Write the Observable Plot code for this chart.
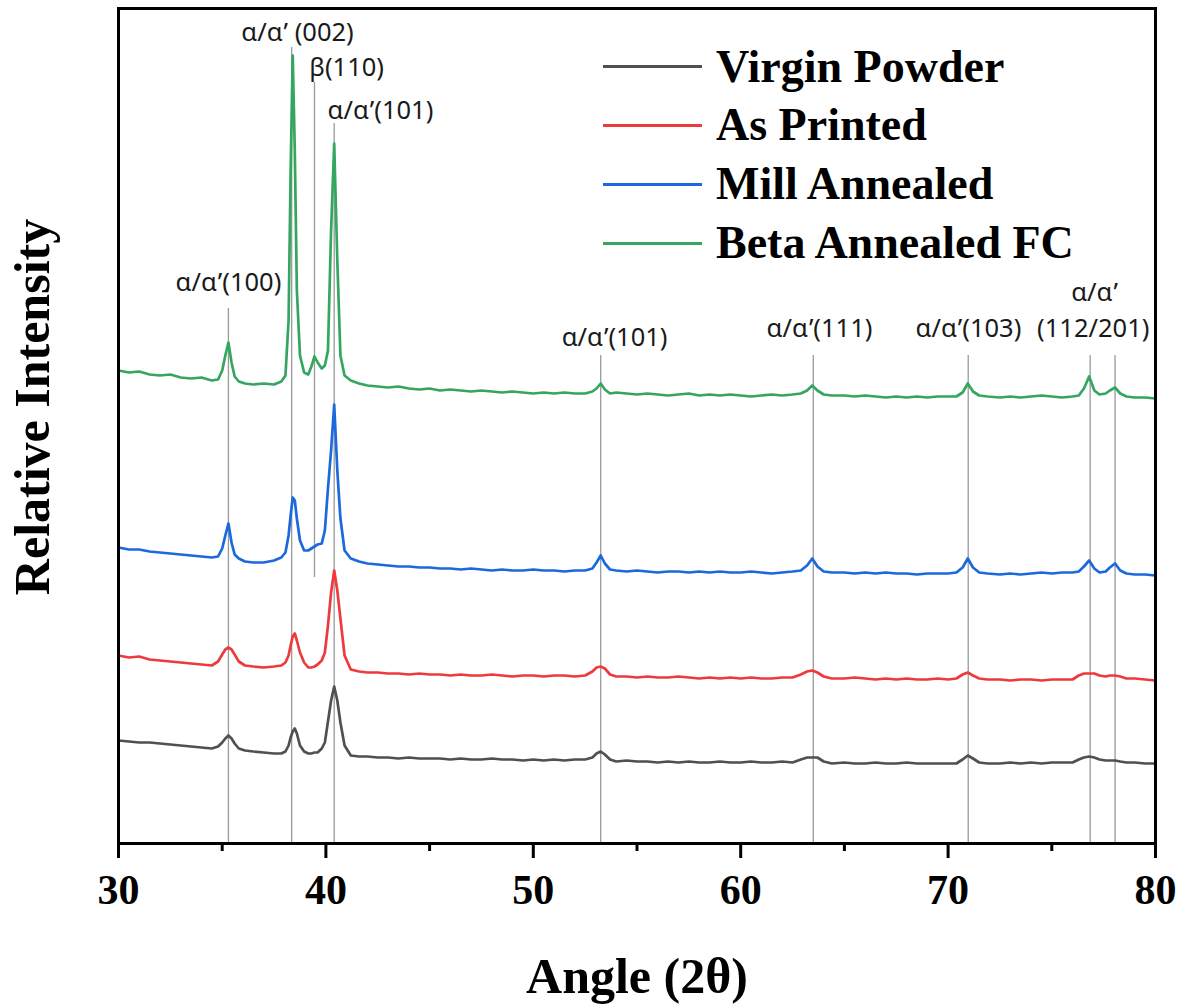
<!DOCTYPE html>
<html><head><meta charset="utf-8">
<script src="https://cdn.jsdelivr.net/npm/d3@7"></script>
<script src="https://cdn.jsdelivr.net/npm/@observablehq/plot@0.6"></script>
<style>
body{margin:0;background:#fff;}
#wrap{position:relative;width:1184px;height:1005px;}
#wrap svg{position:absolute;left:0;top:0;overflow:visible;}
#legend{position:absolute;left:603px;top:37.6px;font-family:"Liberation Serif","Times New Roman",serif;font-weight:bold;font-size:46px;color:#000;}
.row{display:flex;align-items:center;height:58.7px;line-height:58.7px;white-space:nowrap;}
.swatch{width:99px;height:3px;margin-right:14px;}
g[aria-label="x-axis tick label"] text{font-family:"Liberation Serif","Times New Roman",serif;font-weight:bold;}
g[aria-label="peak labels"] text{letter-spacing:0.9px;}
</style></head>
<body><div id="wrap"><div id="legend"></div></div>
<script>
const angles = [
30,30.5,31,31.5,32,32.5,33,33.5,34,34.5,
34.8,35.0,35.15,35.3,35.45,35.6,35.8,36.1,36.5,37,
37.5,37.85,38.05,38.2,38.3,38.4,38.5,38.6,38.75,38.95,
39.15,39.3,39.45,39.6,39.8,39.95,40.1,40.25,40.4,40.55,
40.7,40.9,41.2,41.6,42,42.5,43,43.5,44,44.5,
45,45.5,46,46.5,47,47.5,48,48.5,49,49.5,
50,50.5,51,51.5,52,52.5,52.85,53.05,53.25,53.45,
53.7,54,54.5,55,55.5,56,56.5,57,57.5,58,
58.5,59,59.5,60,60.5,61,61.5,62,62.5,62.9,
63.2,63.45,63.7,64,64.4,65,65.5,66,66.5,67,
67.5,68,68.5,69,69.5,70,70.4,70.7,70.95,71.2,
71.5,71.9,72.5,73,73.5,74,74.5,75,75.5,76,
76.3,76.55,76.8,77.05,77.3,77.6,77.8,78.05,78.3,78.6,
79,79.5,80];

const virginPowder = [
103,102,101,101,100,99,98,97,96,95,
97,101,105,108,105,100,95,93,92,91,
90,90,92,98,106,112,115,110,98,92,
90,90,91,91,95,101,122,143,157,143,
121,98,88,87,87,86,86,85,86,85,
85,85,84,85,84,84,85,84,84,83,
84,83,84,83,84,84,86,90,92,89,
84,82,83,82,82,81,82,81,82,81,
81,82,81,81,82,81,81,82,81,84,
86,86,86,82,80,81,80,80,81,80,
80,81,80,80,80,80,80,84,88,85,
81,80,80,81,80,81,80,81,81,81,
84,86,87,86,84,83,83,83,82,81,
81,80,80];

const asPrinted = [
188,186,187,184,183,182,181,180,179,178,
182,189,194,196,194,189,182,178,177,176,
177,178,181,188,198,207,210,203,191,181,
176,176,177,179,183,191,218,251,273,253,
225,188,174,172,171,171,170,170,169,170,
169,169,168,169,168,168,169,168,167,168,
168,167,168,168,167,168,172,176,177,175,
169,167,167,166,167,166,166,167,166,165,
166,165,166,165,166,165,165,166,166,169,
172,173,171,167,165,165,166,165,164,165,
164,165,164,164,165,164,165,169,171,168,
165,164,164,163,164,164,163,164,164,164,
168,170,170,170,168,167,168,168,167,165,
165,164,163];

const millAnnealed = [
296,294,294,292,291,290,289,288,287,286,
287,295,308,320,301,289,285,282,281,281,
283,286,291,308,328,346,343,325,303,293,
293,295,297,299,300,313,355,393,439,373,
325,293,285,282,280,279,278,277,277,276,
276,275,275,274,275,274,273,274,273,273,
274,273,273,272,273,273,275,281,288,280,
274,273,272,273,272,271,272,272,271,272,
271,272,271,271,272,271,270,271,272,273,
278,285,277,272,271,271,270,271,270,271,
270,270,269,270,270,270,271,276,285,276,
271,270,269,270,269,270,271,270,271,271,
272,277,283,275,271,272,276,280,273,270,
269,269,268];

const betaAnnealedFC = [
473,471,472,469,468,469,466,465,466,463,
464,473,488,501,481,467,462,460,459,460,
459,462,468,523,673,788,693,553,488,471,
469,477,487,481,475,478,493,613,700,583,
488,468,463,460,458,457,456,457,455,454,
455,453,454,453,452,453,452,451,452,451,
450,451,450,451,450,450,452,455,460,454,
450,451,450,449,450,449,448,449,450,448,
449,448,449,448,447,448,449,448,449,450,
453,458,453,449,448,448,447,448,447,446,
447,446,447,446,447,447,447,451,460,452,
448,447,446,447,446,447,448,447,446,447,
448,455,467,453,449,450,453,456,450,447,
446,446,445];

const seriesNames = ["Virgin Powder", "As Printed", "Mill Annealed", "Beta Annealed FC"];
const seriesColors = ["#505050", "#ee3a3d", "#1c68dd", "#34a65f"];
const seriesValues = [virginPowder, asPrinted, millAnnealed, betaAnnealedFC];

const peakAngles = [35.3, 38.35, 39.45, 40.4, 53.25, 63.5, 70.97, 76.85, 78.05];
const peakLineTop = [535, 796, 761, 720, 488, 488, 488, 488, 488];
const peakLineBottom = [0, 0, 266, 0, 0, 0, 0, 0, 0];

const labelTexts = ["α/α’ (002)", "β(110)", "α/α’(101)", "α/α’(100)", "α/α’(101)", "α/α’(111)", "α/α’(103)", "α/α’", "(112/201)"];
const labelAngles = [38.63, 41.0, 42.63, 35.3, 53.92, 63.8, 70.98, 77.06, 77.0];
const labelHeights = [811, 776, 733, 561, 506, 515, 515, 551, 515];

const majorTicks = [30, 40, 50, 60, 70, 80];
const minorTicks = [35, 45, 55, 65, 75];

const rows = [];
seriesNames.forEach((name, s) => {
  angles.forEach((a, i) => {
    const v = seriesValues[s][i];
    if (v !== undefined) rows.push({angle: a, intensity: v, series: name});
  });
});

const serif = "'Liberation Serif','Times New Roman',serif";

const chart = Plot.plot({
  width: 1184,
  height: 1005,
  marginLeft: 118,
  marginRight: 29,
  marginTop: 8,
  marginBottom: 162,
  style: {background: "white", overflow: "visible"},
  x: {domain: [30, 80], label: null},
  y: {domain: [0, 835], axis: null},
  color: {domain: seriesNames, range: seriesColors},
  marks: [
    Plot.ruleX(peakAngles, {x: d => d, y1: (d, i) => peakLineBottom[i], y2: (d, i) => peakLineTop[i], stroke: "#9a9a9a", strokeWidth: 1.3}),
    Plot.line(rows, {x: "angle", y: "intensity", z: "series", stroke: "series", strokeWidth: 2.7, strokeLinejoin: "round"}),
    Plot.text(labelTexts, {x: (d, i) => labelAngles[i], y: (d, i) => labelHeights[i], text: d => d, fontSize: 25.5, fontFamily: "'Noto Sans', sans-serif", fill: "#1a1a1a", textAnchor: "middle", lineAnchor: "middle", ariaLabel: "peak labels"}),
    Plot.frame({stroke: "black", strokeWidth: 3}),
    Plot.axisX({ticks: majorTicks, anchor: "bottom", tickSize: 15, tickPadding: 16, strokeWidth: 3, stroke: "black", color: "black", fontSize: 42, fontWeight: "bold", fontFamily: serif, label: null}),
    Plot.axisX({ticks: minorTicks, anchor: "bottom", tickSize: 8, strokeWidth: 3, stroke: "black", tickFormat: () => "", label: null}),
    Plot.text(["Angle (2θ)"], {frameAnchor: "bottom", dy: 133, lineAnchor: "middle", textAnchor: "middle", fontSize: 50, fontWeight: "bold", fontFamily: serif, fill: "black"}),
    Plot.text(["Relative Intensity"], {frameAnchor: "left", rotate: -90, dx: -86, dy: -19, lineAnchor: "middle", textAnchor: "middle", fontSize: 50, fontWeight: "bold", fontFamily: serif, fill: "black"})
  ]
});

const wrap = document.getElementById("wrap");
wrap.insertBefore(chart, wrap.firstChild);

const legend = document.getElementById("legend");
seriesNames.forEach((name, i) => {
  const row = document.createElement("div");
  row.className = "row";
  const sw = document.createElement("div");
  sw.className = "swatch";
  sw.style.background = seriesColors[i];
  const t = document.createElement("span");
  t.textContent = name;
  row.appendChild(sw);
  row.appendChild(t);
  legend.appendChild(row);
});
</script>
</body></html>
